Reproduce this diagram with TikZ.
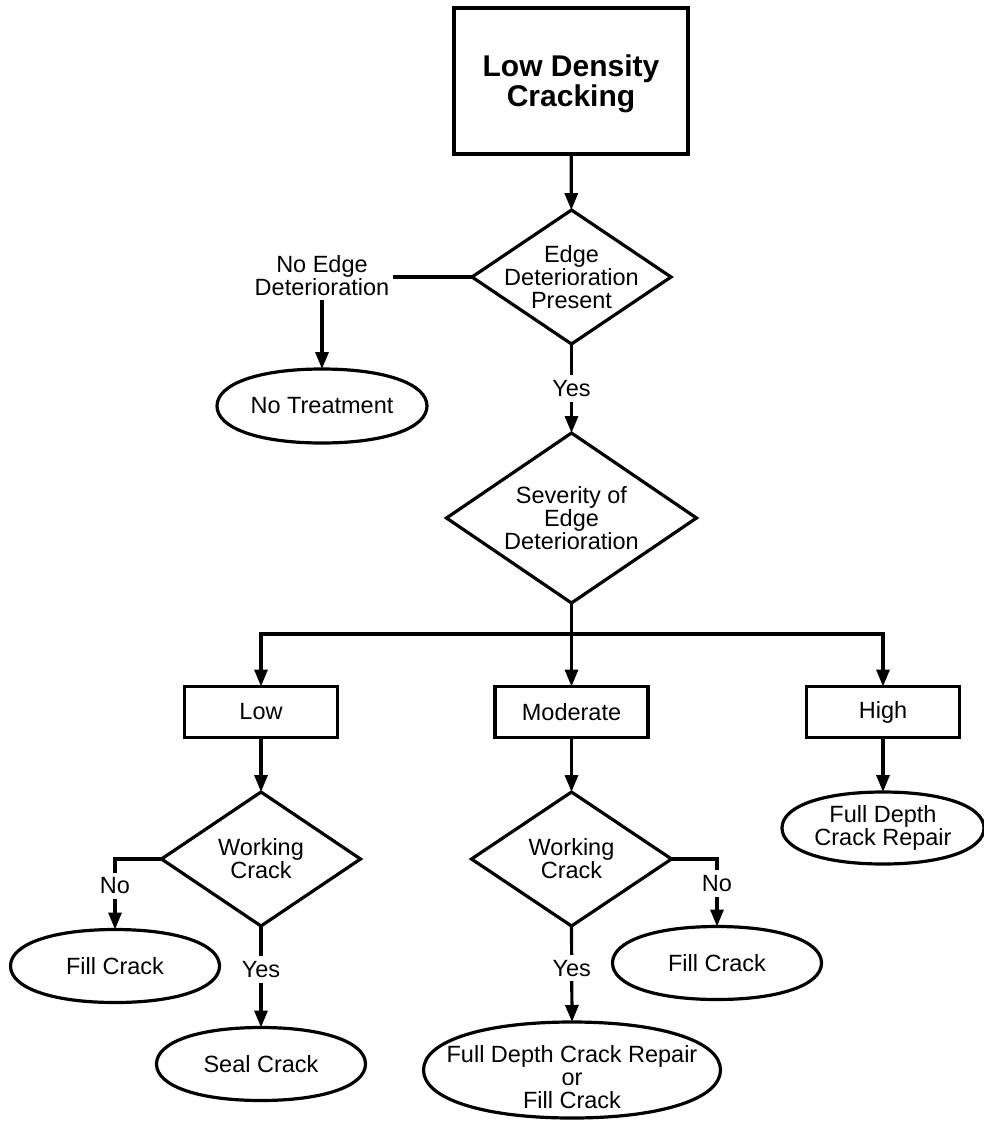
\documentclass[tikz,border=0pt]{standalone}
\usepackage{fontspec}
\setmainfont{Liberation Sans}
\usetikzlibrary{arrows.meta,shapes.geometric,calc}
\def\kk{0.6}
% draws a slightly squared ellipse through the anchors of an (undrawn) ellipse node
\newcommand\sqell[1]{%
  \draw[ln] let \p1=(#1.center), \p2=(#1.east), \p3=(#1.north) in
    (\x2,\y1) .. controls (\x2,{\y1+\kk*(\y3-\y1)}) and ({\x1+\kk*(\x2-\x1)},\y3) .. (\x1,\y3)
    .. controls ({\x1-\kk*(\x2-\x1)},\y3) and ({2*\x1-\x2},{\y1+\kk*(\y3-\y1)}) .. ({2*\x1-\x2},\y1)
    .. controls ({2*\x1-\x2},{\y1-\kk*(\y3-\y1)}) and ({\x1-\kk*(\x2-\x1)},{2*\y1-\y3}) .. (\x1,{2*\y1-\y3})
    .. controls ({\x1+\kk*(\x2-\x1)},{2*\y1-\y3}) and (\x2,{\y1-\kk*(\y3-\y1)}) .. cycle;}
\begin{document}
\begin{tikzpicture}[x=1pt,y=-1pt,
  every node/.style={font=\fontsize{23.5}{23}\selectfont, align=center},
  ln/.style={line width=3.2pt, line join=round},
  arr/.style={line width=3.2pt, -{Triangle[length=17pt,width=13pt]}},
  boxnode/.style={draw, line width=3.2pt, rectangle, inner sep=0pt, outer sep=0pt},
  dia/.style={draw, line width=3.2pt, diamond, inner sep=0pt, outer sep=0pt},
  ell/.style={ellipse, inner sep=0pt, outer sep=0pt},
  lbl/.style={inner sep=0pt, align=center},
  tag/.style={fill=white, inner xsep=2pt, inner ysep=5pt}
]
\useasboundingbox (0,0) rectangle (983,1122);

% top
\node[boxnode, minimum width=234pt, minimum height=146pt,
      label={[lbl,yshift=-3pt,font=\bfseries\fontsize{30}{30}\selectfont]center:Low Density\\Cracking}] (title) at (571,81) {};
\node[dia, minimum width=199pt, minimum height=134pt,
      label={[lbl]center:Edge\\Deterioration\\Present}] (ed) at (571.5,277) {};
\node[inner sep=4pt] (noedge) at (322,276) {No Edge\\Deterioration};
\node[ell, minimum width=210pt, minimum height=74pt] (notreat) at (322,406) {No Treatment};
\node[dia, minimum width=250pt, minimum height=170pt,
      label={[lbl]center:Severity of\\Edge\\Deterioration}] (sev) at (571.5,518) {};
\coordinate (bus) at (571.5,634);

% level boxes
\node[boxnode, minimum width=153pt, minimum height=51pt] (low) at (261,712) {Low};
\node[boxnode, minimum width=153pt, minimum height=51pt] (mod) at (571.5,712) {Moderate};
\node[boxnode, minimum width=153pt, minimum height=51pt] (high) at (883,712) {High};

% low branch
\node[dia, minimum width=199pt, minimum height=134pt,
      label={[lbl]center:Working\\Crack}] (wl) at (261,859) {};
\node[ell, minimum width=209pt, minimum height=73pt] (fill1) at (115,966) {Fill Crack};
\node[ell, minimum width=209pt, minimum height=73pt] (seal) at (261,1064) {Seal Crack};

% moderate branch
\node[dia, minimum width=200pt, minimum height=134pt,
      label={[lbl]center:Working\\Crack}] (wm) at (571.5,859) {};
\node[ell, minimum width=209pt, minimum height=73pt] (fill2) at (717,963) {Fill Crack};
\node[ell, minimum width=297pt, minimum height=96pt,
      label={[lbl,yshift=-7pt]center:Full Depth Crack Repair\\or\\Fill Crack}] (fdc) at (572,1070) {};

% high branch
\node[ell, minimum width=202pt, minimum height=72pt,
      label={[lbl]center:Full Depth\\Crack Repair}] (fdr) at (883,828) {};

% outlines of the oval nodes
\sqell{notreat}
\sqell{fill1}
\sqell{seal}
\sqell{fill2}
\sqell{fdc}
\sqell{fdr}

% connectors
\draw[arr] (title) -- (ed);
\draw[ln] (ed.west) -- (ed.west -| noedge.east);
\draw[arr] (noedge) -- (notreat);
\draw[arr] (ed.south) -- node[tag]{Yes} (sev.north);
\draw[ln] (sev.south) -- (bus);
\draw[arr] (bus) -- (mod.north);
\draw[arr] (bus) -| (low.north);
\draw[arr] (bus) -| (high.north);

\draw[arr] (low) -- (wl);
\draw[arr] (wl.west) -| node[tag,pos=0.69]{No} (fill1.north);
\draw[arr] (wl.south) -- node[tag,pos=0.43]{Yes} (seal.north);

\draw[arr] (mod) -- (wm);
\draw[arr] (wm.east) -| node[tag,pos=0.68]{No} (fill2.north);
\draw[arr] (wm.south) -- node[tag,pos=0.44]{Yes} (fdc.north);

\draw[arr] (high) -- (fdr);
\end{tikzpicture}
\end{document}
